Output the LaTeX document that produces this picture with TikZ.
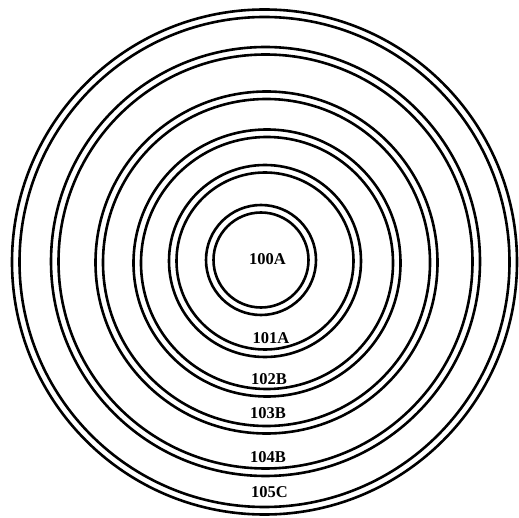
\documentclass[tikz,border=0pt]{standalone}
\usepackage{fontspec}
\setmainfont{Liberation Serif}
\begin{document}
\begin{tikzpicture}[x=1pt,y=-1pt,
  ringline/.style={draw=black,line width=2.6pt},
  lbl/.style={font=\fontsize{16.5}{16.5}\selectfont\bfseries,inner sep=0pt}]
\useasboundingbox (0,0) rectangle (519,518);
\newcommand{\dring}[4]{%
  \coordinate (#1) at (#2,#3);
  \draw[ringline] (#1) circle (#4);
  \draw[ringline] (#1) circle (#4-7.5);}
\dring{c1}{264.5}{262}{252.5}
\dring{c2}{265.5}{261.5}{214.5}
\dring{c3}{266.5}{262.5}{171}
\dring{c4}{267}{263}{133.5}
\dring{c5}{265}{261}{96}
\dring{c6}{261}{260}{55}
\node[lbl] (l100) at (267.5,259) {100A};
\node[lbl] (l101) at (271,338) {101A};
\node[lbl] (l102) at (269,379) {102B};
\node[lbl] (l103) at (268,413) {103B};
\node[lbl] (l104) at (268,457) {104B};
\node[lbl] (l105) at (269.5,492) {105C};
\end{tikzpicture}
\end{document}
